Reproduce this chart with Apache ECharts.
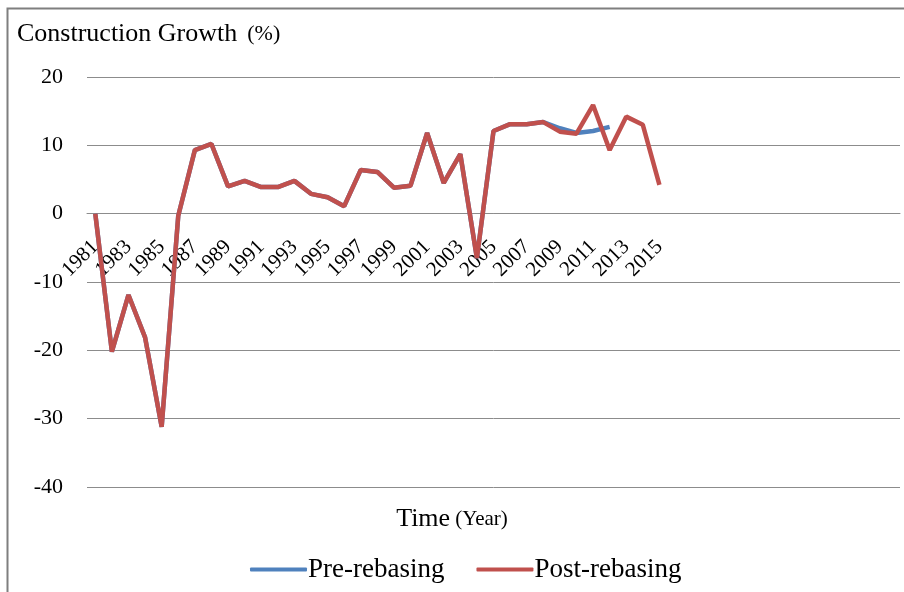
<!DOCTYPE html>
<html>
<head>
<meta charset="utf-8">
<script src="https://cdn.jsdelivr.net/npm/echarts@6/dist/echarts.min.js"></script>
<style>
  html, body { margin: 0; padding: 0; background: #fff; }
  #main { width: 904px; height: 592px; }
</style>
</head>
<body>
<div id="main"></div>
<script>
// years on the category axis (the chart area keeps running past 2015 with empty slots)
const years = [
  '1981', '1982', '1983', '1984', '1985', '1986', '1987', '1988', '1989', '1990',
  '1991', '1992', '1993', '1994', '1995', '1996', '1997', '1998', '1999', '2000',
  '2001', '2002', '2003', '2004', '2005', '2006', '2007', '2008', '2009', '2010',
  '2011', '2012', '2013', '2014', '2015'
];
const emptySlots = ['', '', '', '', '', '', '', '', '', '', '', '', '', ''];

// construction growth, %
const postRebasing = [
  0, -20.2, -11.9, -18.1, -31.2, -0.3, 9.3, 10.2, 4.0, 4.8,
  3.9, 3.9, 4.8, 2.9, 2.4, 1.1, 6.4, 6.1, 3.8, 4.1,
  11.8, 4.5, 8.7, -6.5, 12.1, 13.1, 13.1, 13.4, 12.0, 11.7,
  15.9, 9.3, 14.2, 13.0, 4.2
];
const preRebasing = [
  0, -20.2, -11.9, -18.1, -31.2, -0.3, 9.3, 10.2, 4.0, 4.8,
  3.9, 3.9, 4.8, 2.9, 2.4, 1.1, 6.4, 6.1, 3.8, 4.1,
  11.8, 4.5, 8.7, -6.5, 12.1, 13.1, 13.1, 13.4, 12.5, 11.8,
  12.1, 12.7, null, null, null
];

const yTicks = [-40, -30, -20, -10, 0, 10, 20];

const serif = '"Liberation Serif", "DejaVu Serif", serif';
const gridGray = '#8c8c8c';

const chart = echarts.init(document.getElementById('main'));

// the year labels sit just under the zero line, not under the plot
const plotTop = 77, plotBottom = 487;
const zeroY = plotTop + (plotBottom - plotTop) * yTicks[yTicks.length - 1] / (yTicks[yTicks.length - 1] - yTicks[0]);

const option = {
  backgroundColor: '#fff',
  animation: false,
  title: [
    {
      // y axis title
      text: '{a|Construction Growth}  {b|(%)}',
      left: 12,
      top: 16,
      textStyle: {
        rich: {
          a: { fontFamily: serif, fontSize: 26, fontWeight: 'normal', color: '#000' },
          b: { fontFamily: serif, fontSize: 22, fontWeight: 'normal', color: '#000' }
        }
      }
    },
    {
      // x axis title
      text: '{a|Time} {b|(Year)}',
      left: 'center',
      top: 501,
      textStyle: {
        rich: {
          a: { fontFamily: serif, fontSize: 26, fontWeight: 'normal', color: '#000' },
          b: { fontFamily: serif, fontSize: 21, fontWeight: 'normal', color: '#000' }
        }
      }
    }
  ],
  legend: {
    left: 245,
    top: 551,
    icon: 'roundRect',
    itemWidth: 57,
    itemHeight: 4,
    itemGap: 32,
    textStyle: { fontFamily: serif, fontSize: 27, color: '#000', padding: [0, 0, 0, -4] },
    data: ['Pre-rebasing', 'Post-rebasing']
  },
  grid: {
    left: 87,
    right: 4,
    top: plotTop,
    bottom: 592 - plotBottom
  },
  xAxis: {
    type: 'category',
    data: years.concat(emptySlots),
    boundaryGap: true,
    position: 'bottom',
    offset: -(plotBottom - zeroY),
    axisLine: { show: true, onZero: false, lineStyle: { color: gridGray, width: 1 } },
    axisTick: { show: false },
    axisLabel: {
      interval: 1,
      rotate: 45,
      margin: 30,
      fontFamily: serif,
      fontSize: 21,
      color: '#000'
    },
    splitLine: { show: false }
  },
  yAxis: {
    type: 'value',
    min: yTicks[0],
    max: yTicks[yTicks.length - 1],
    interval: 10,
    axisLine: { show: false },
    axisTick: { show: false },
    axisLabel: {
      margin: 24,
      fontFamily: serif,
      fontSize: 22,
      color: '#000'
    },
    splitLine: { lineStyle: { color: gridGray, width: 1 } }
  },
  series: [
    {
      name: 'Pre-rebasing',
      type: 'line',
      data: preRebasing,
      symbol: 'none',
      color: '#4F81BD',
      lineStyle: { width: 4.5, color: '#4F81BD' }
    },
    {
      name: 'Post-rebasing',
      type: 'line',
      data: postRebasing,
      symbol: 'none',
      color: '#C0504D',
      lineStyle: { width: 4.5, color: '#C0504D' }
    }
  ],
  graphic: [
    {
      // outer chart frame (cropped at the right and bottom)
      type: 'rect',
      silent: true,
      shape: { x: 7.5, y: 8.5, width: 920, height: 600 },
      style: { fill: 'none', stroke: '#7f7f7f', lineWidth: 2 }
    }
  ]
};

chart.setOption(option);
</script>
</body>
</html>
